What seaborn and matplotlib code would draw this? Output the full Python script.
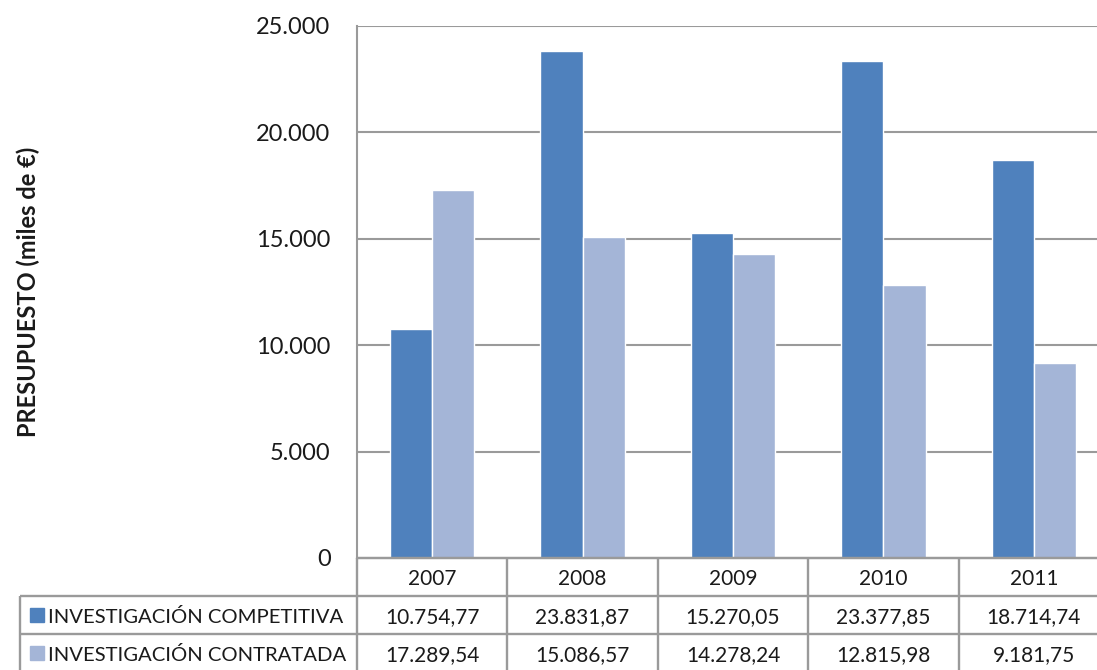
import pandas as pd
import seaborn as sns
import matplotlib.pyplot as plt
from matplotlib.ticker import FuncFormatter

years = ['2007', '2008', '2009', '2010', '2011']
series = ['INVESTIGACIÓN COMPETITIVA', 'INVESTIGACIÓN CONTRATADA']
competitiva = [10754.77, 23831.87, 15270.05, 23377.85, 18714.74]
contratada = [17289.54, 15086.57, 14278.24, 12815.98, 9181.75]
colors = ['#4F81BD', '#A4B5D7']
y_ticks = [0, 5000, 10000, 15000, 20000, 25000]

df = pd.DataFrame({
    'year': years * 2,
    'serie': [series[0]] * 5 + [series[1]] * 5,
    'value': competitiva + contratada,
})


def es_num(v, dec=2):
    s = f"{v:,.{dec}f}"
    return s.replace(',', 'X').replace('.', ',').replace('X', '.')


sns.set_style('white')
plt.rcParams['font.family'] = ['Lato', 'DejaVu Sans']

W, H = 1097, 670
grid_col = '#9A9A9A'
txt_col = '#1a1a1a'
fig = plt.figure(figsize=(W / 100, H / 100), dpi=100)

# main plot (right edge runs past the figure, as in the original)
ax = fig.add_axes([357 / W, (H - 558) / H, 752 / W, 532 / H])
sns.barplot(data=df, x='year', y='value', hue='serie', palette=colors,
            width=0.56, saturation=1, errorbar=None, legend=False, ax=ax)
ax.set_xlim(-0.5, 4.5)
ax.set_ylim(0, 25000)
ax.set_yticks(y_ticks)
ax.yaxis.set_major_formatter(FuncFormatter(lambda v, p: es_num(v, 0)))
ax.tick_params(axis='y', length=0, pad=19, labelsize=17, labelcolor=txt_col)
ax.set_xticks([])
ax.set_xlabel('')
ax.set_ylabel('PRESUPUESTO (miles de €)', fontsize=17, fontweight='bold',
              labelpad=0, color=txt_col)
ax.yaxis.set_label_coords((40 - 357) / 752, 0.5)
for t in y_ticks[1:]:
    ax.axhline(t, color=grid_col, lw=1.5, zorder=0)
for s in ['top', 'right']:
    ax.spines[s].set_visible(False)
for s in ['left', 'bottom']:
    ax.spines[s].set_color(grid_col)
    ax.spines[s].set_linewidth(1.5)

# data table below
px = 752 / 5  # pixels per category
tax = fig.add_axes([357 / W, (H - 672) / H, 752 / W, 114 / H])
tax.set_xlim(-0.5, 4.5)
tax.set_ylim(3, 0)
tax.axis('off')
x_left = -0.5 + (20 - 357) / px
kw = dict(color=grid_col, lw=1.7, clip_on=False, solid_capstyle='butt')
tax.plot([-0.5, 4.6], [0, 0], **kw)
for r in [1, 2, 3]:
    tax.plot([x_left, 4.6], [r, r], **kw)
tax.plot([x_left, x_left], [1, 3], **kw)
for i in range(6):
    tax.plot([i - 0.5, i - 0.5], [0, 3], **kw)

for i, y in enumerate(years):
    tax.text(i, 0.55, y, ha='center', va='center', fontsize=15, color=txt_col)
for r, (name, vals, c) in enumerate(zip(series, [competitiva, contratada], colors)):
    yy = r + 1.55
    tax.plot(-0.5 + (37 - 357) / px, yy - 0.05, marker='s', ms=9.5, color=c,
             clip_on=False, ls='none')
    tax.text(-0.5 + (48 - 357) / px, yy, name, ha='left', va='center',
             fontsize=14.6, color=txt_col)
    for i, v in enumerate(vals):
        tax.text(i, yy, es_num(v), ha='center', va='center', fontsize=15,
                 color=txt_col)

fig.savefig('out.png', dpi=100)
